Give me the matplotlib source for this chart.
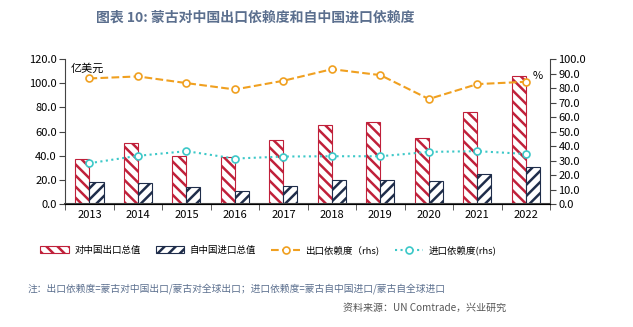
import numpy as np
import matplotlib
matplotlib.use("Agg")
import matplotlib.pyplot as plt

plt.rcParams['font.family'] = ['Noto Sans CJK SC', 'DejaVu Sans']
plt.rcParams['hatch.linewidth'] = 1.8

years = ['2013', '2014', '2015', '2016', '2017', '2018', '2019', '2020', '2021', '2022']
export_total = [37.4, 50.6, 39.4, 39.1, 53.1, 65.2, 68.0, 54.8, 76.5, 106.0]
import_total = [17.9, 17.1, 13.8, 10.5, 14.6, 19.8, 20.1, 19.0, 25.0, 30.8]
export_dep = [86.7, 88.1, 83.5, 79.1, 85.1, 93.1, 89.0, 72.5, 82.8, 84.4]
import_dep = [28.2, 33.3, 36.5, 31.4, 32.8, 33.0, 33.0, 36.0, 36.5, 34.6]

red = '#c0203a'
navy = '#1f2d4a'
orange = '#f0a020'
cyan = '#3cc8c8'
title_col = '#5b6f8e'

fig = plt.figure(figsize=(6.33, 3.27), dpi=100)
ax = fig.add_axes([0.103, 0.376, 0.766, 0.443])
ax2 = ax.twinx()

x = np.arange(len(years))
w = 0.29
ax.bar(x - w / 2, export_total, w, facecolor='white', edgecolor=red, hatch='\\\\\\', lw=0.8,
       label='对中国出口总值')
ax.bar(x + w / 2, import_total, w, facecolor='white', edgecolor=navy, hatch='///', lw=0.8,
       label='自中国进口总值')

ax2.plot(x, export_dep, color=orange, ls='--', lw=1.5, marker='o', ms=5,
         mfc='white', mec=orange, mew=1.2, label='出口依赖度（rhs)')
ax2.plot(x, import_dep, color=cyan, ls=':', lw=1.5, marker='o', ms=5,
         mfc='white', mec=cyan, mew=1.2, label='进口依赖度(rhs)')

ax.set_xlim(-0.5, len(years) - 0.5)
ax.set_ylim(0, 120)
ax2.set_ylim(0, 100)
ax.set_yticks(np.arange(0, 121, 20))
ax.set_yticklabels([f'{v:.1f}' for v in np.arange(0, 121, 20)])
ax2.set_yticks(np.arange(0, 101, 10))
ax2.set_yticklabels([f'{v:.1f}' for v in np.arange(0, 101, 10)])
ax.set_xticks(x)
ax.set_xticklabels(years)
ax.set_xticks(np.arange(-0.5, len(years), 1), minor=True)
ax.tick_params(axis='x', which='major', length=0, labelsize=8, pad=4)
ax.tick_params(axis='x', which='minor', length=4, direction='out', color='#444')
ax.tick_params(axis='y', labelsize=8, length=4, color='#444', pad=2)
ax2.tick_params(axis='y', labelsize=8, length=4, color='#444', pad=2)

for a in (ax, ax2):
    a.spines['top'].set_visible(False)
ax.spines['right'].set_visible(False)
ax2.spines['left'].set_visible(False)
ax.spines['bottom'].set_color('#444')
ax.spines['bottom'].set_linewidth(1.5)
ax.spines['left'].set_color('#444')
ax2.spines['right'].set_color('#444')

ax.text(0.012, 0.97, '亿美元', transform=ax.transAxes, fontsize=8, va='top', ha='left')
ax2.text(0.985, 0.92, '%', transform=ax2.transAxes, fontsize=8, va='top', ha='right')

fig.text(0.403, 0.945, '图表 10: 蒙古对中国出口依赖度和自中国进口依赖度', ha='center', va='center',
         fontsize=10, color=title_col, fontweight='bold')

h1, l1 = ax.get_legend_handles_labels()
h2, l2 = ax2.get_legend_handles_labels()
fig.legend(h1 + h2, l1 + l2, loc='center', bbox_to_anchor=(0.424, 0.235), ncol=4,
           frameon=False, fontsize=6.8, handlelength=3.0, columnspacing=1.6, handletextpad=0.6)

fig.text(0.043, 0.118, '注：出口依赖度=蒙古对中国出口/蒙古对全球出口；进口依赖度=蒙古自中国进口/蒙古自全球进口',
         fontsize=7, color=title_col, va='center')
fig.text(0.80, 0.058, '资料来源：UN Comtrade，兴业研究', fontsize=7.2, color='#555555',
         va='center', ha='right')

fig.savefig('out.png', dpi=100)
